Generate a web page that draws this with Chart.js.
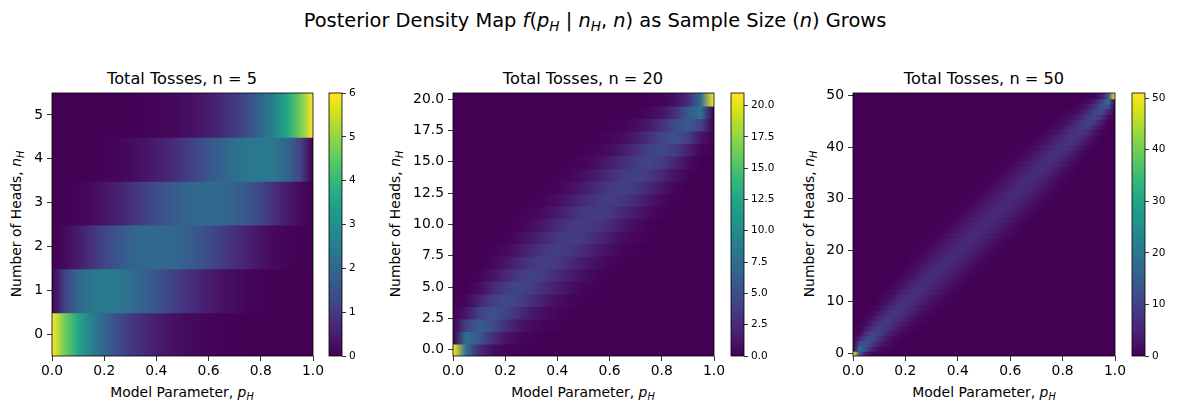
<!DOCTYPE html>
<html>
<head>
<meta charset="utf-8">
<script src="https://cdn.jsdelivr.net/npm/chart.js@4.4.1/dist/chart.umd.min.js"></script>
<style>
  body { margin: 0; background: #fff; width: 1177px; height: 413px; overflow: hidden; position: relative;
         font-family: "DejaVu Sans", sans-serif; color: #000; }
  canvas { position: absolute; }
  .txt { position: absolute; white-space: nowrap; transform: translate(-50%, -50%); line-height: 1; }
  .ylab { transform: translate(-50%, -50%) rotate(-90deg); }
  sub { font-size: 70%; position: relative; top: 0.3em; vertical-align: baseline; }
</style>
</head>
<body>

<div class="txt" style="left:595px;top:21px;font-size:19.4px">Posterior Density Map <i>f</i>(<i>p<sub>H</sub></i> | <i>n<sub>H</sub></i>, <i>n</i>) as Sample Size (<i>n</i>) Grows</div>

<div class="txt" style="left:182px;top:79px;font-size:16.2px">Total Tosses, n = 5</div>
<div class="txt" style="left:583px;top:79px;font-size:16.2px">Total Tosses, n = 20</div>
<div class="txt" style="left:984px;top:79px;font-size:16.2px">Total Tosses, n = 50</div>

<div class="txt" style="left:182px;top:393px;font-size:13.9px">Model Parameter, <i>p<sub>H</sub></i></div>
<div class="txt" style="left:583px;top:393px;font-size:13.9px">Model Parameter, <i>p<sub>H</sub></i></div>
<div class="txt" style="left:984px;top:393px;font-size:13.9px">Model Parameter, <i>p<sub>H</sub></i></div>

<div class="txt ylab" style="left:17px;top:224px;font-size:13.9px">Number of Heads, <i>n<sub>H</sub></i></div>
<div class="txt ylab" style="left:396px;top:224px;font-size:13.9px">Number of Heads, <i>n<sub>H</sub></i></div>
<div class="txt ylab" style="left:810px;top:224px;font-size:13.9px">Number of Heads, <i>n<sub>H</sub></i></div>

<script>
// p values where the density was read (columns of each row)
const pGrid = [0, 0.05, 0.1, 0.15, 0.2, 0.25, 0.3, 0.35, 0.4, 0.45, 0.5,
               0.55, 0.6, 0.65, 0.7, 0.75, 0.8, 0.85, 0.9, 0.95, 1];
const pGridFine = [0, 0.025, 0.05, 0.075, 0.1, 0.125, 0.15, 0.175, 0.2, 0.225, 0.25,
                   0.275, 0.3, 0.325, 0.35, 0.375, 0.4, 0.425, 0.45, 0.475, 0.5,
                   0.525, 0.55, 0.575, 0.6, 0.625, 0.65, 0.675, 0.7, 0.725, 0.75,
                   0.775, 0.8, 0.825, 0.85, 0.875, 0.9, 0.925, 0.95, 0.975, 1];

// density, one row per number of heads (row 0 = 0 heads)
const density5 = [
  [6, 4.64, 3.54, 2.66, 1.97, 1.42, 1.01, 0.70, 0.47, 0.30, 0.19, 0.11, 0.06, 0.03, 0.01, 0.01, 0, 0, 0, 0, 0],
  [0, 1.22, 1.97, 2.35, 2.46, 2.37, 2.16, 1.87, 1.56, 1.24, 0.94, 0.68, 0.46, 0.29, 0.17, 0.09, 0.04, 0.01, 0, 0, 0],
  [0, 0.13, 0.44, 0.83, 1.23, 1.58, 1.85, 2.02, 2.07, 2.02, 1.88, 1.65, 1.38, 1.09, 0.79, 0.53, 0.31, 0.15, 0.05, 0.01, 0],
  [0, 0.01, 0.05, 0.15, 0.31, 0.53, 0.79, 1.09, 1.38, 1.65, 1.88, 2.02, 2.07, 2.02, 1.85, 1.58, 1.23, 0.83, 0.44, 0.13, 0],
  [0, 0, 0, 0.01, 0.04, 0.09, 0.17, 0.29, 0.46, 0.68, 0.94, 1.24, 1.56, 1.87, 2.16, 2.37, 2.46, 2.35, 1.97, 1.22, 0],
  [0, 0, 0, 0, 0, 0.01, 0.01, 0.03, 0.06, 0.11, 0.19, 0.30, 0.47, 0.70, 1.01, 1.42, 1.97, 2.66, 3.54, 4.64, 6]
];

const density20 = [
  [21, 7.5, 2.6, 0.8, 0.2, 0.1, 0, 0, 0, 0, 0, 0, 0, 0, 0, 0, 0, 0, 0, 0, 0],
  [0, 7.9, 5.7, 2.9, 1.2, 0.4, 0.1, 0, 0, 0, 0, 0, 0, 0, 0, 0, 0, 0, 0, 0, 0],
  [0, 4.0, 6.0, 4.8, 2.9, 1.4, 0.6, 0.2, 0.1, 0, 0, 0, 0, 0, 0, 0, 0, 0, 0, 0, 0],
  [0, 1.2, 4.0, 5.1, 4.3, 2.8, 1.5, 0.7, 0.3, 0.1, 0, 0, 0, 0, 0, 0, 0, 0, 0, 0, 0],
  [0, 0.3, 1.9, 3.8, 4.6, 4.0, 2.7, 1.6, 0.7, 0.3, 0.1, 0, 0, 0, 0, 0, 0, 0, 0, 0, 0],
  [0, 0, 0.7, 2.2, 3.7, 4.3, 3.7, 2.7, 1.6, 0.8, 0.3, 0.1, 0, 0, 0, 0, 0, 0, 0, 0, 0],
  [0, 0, 0.2, 1.0, 2.3, 3.5, 4.0, 3.6, 2.6, 1.6, 0.8, 0.3, 0.1, 0, 0, 0, 0, 0, 0, 0, 0],
  [0, 0, 0, 0.3, 1.1, 2.4, 3.4, 3.9, 3.5, 2.6, 1.5, 0.8, 0.3, 0.1, 0, 0, 0, 0, 0, 0, 0],
  [0, 0, 0, 0.1, 0.5, 1.3, 2.4, 3.4, 3.8, 3.4, 2.5, 1.5, 0.8, 0.3, 0.1, 0, 0, 0, 0, 0, 0],
  [0, 0, 0, 0, 0.2, 0.6, 1.4, 2.4, 3.4, 3.7, 3.4, 2.5, 1.5, 0.7, 0.3, 0.1, 0, 0, 0, 0, 0],
  [0, 0, 0, 0, 0, 0.2, 0.6, 1.4, 2.5, 3.4, 3.7, 3.4, 2.5, 1.4, 0.6, 0.2, 0, 0, 0, 0, 0],
  [0, 0, 0, 0, 0, 0.1, 0.3, 0.7, 1.5, 2.5, 3.4, 3.7, 3.4, 2.4, 1.4, 0.6, 0.2, 0, 0, 0, 0],
  [0, 0, 0, 0, 0, 0, 0.1, 0.3, 0.8, 1.5, 2.5, 3.4, 3.8, 3.4, 2.4, 1.3, 0.5, 0.1, 0, 0, 0],
  [0, 0, 0, 0, 0, 0, 0, 0.1, 0.3, 0.8, 1.5, 2.6, 3.5, 3.9, 3.4, 2.4, 1.1, 0.3, 0, 0, 0],
  [0, 0, 0, 0, 0, 0, 0, 0, 0.1, 0.3, 0.8, 1.6, 2.6, 3.6, 4.0, 3.5, 2.3, 1.0, 0.2, 0, 0],
  [0, 0, 0, 0, 0, 0, 0, 0, 0, 0.1, 0.3, 0.8, 1.6, 2.7, 3.7, 4.3, 3.7, 2.2, 0.7, 0, 0],
  [0, 0, 0, 0, 0, 0, 0, 0, 0, 0, 0.1, 0.3, 0.7, 1.6, 2.7, 4.0, 4.6, 3.8, 1.9, 0.3, 0],
  [0, 0, 0, 0, 0, 0, 0, 0, 0, 0, 0, 0.1, 0.3, 0.7, 1.5, 2.8, 4.3, 5.1, 4.0, 1.2, 0],
  [0, 0, 0, 0, 0, 0, 0, 0, 0, 0, 0, 0, 0.1, 0.2, 0.6, 1.4, 2.9, 4.8, 6.0, 4.0, 0],
  [0, 0, 0, 0, 0, 0, 0, 0, 0, 0, 0, 0, 0, 0, 0.1, 0.4, 1.2, 2.9, 5.7, 7.9, 0],
  [0, 0, 0, 0, 0, 0, 0, 0, 0, 0, 0, 0, 0, 0, 0, 0.1, 0.2, 0.8, 2.6, 7.5, 21]
];

// n = 50, read on the finer p grid
const density50 = [
  [51,14.4,3.9,1,0.3,0.1,0,0,0,0, 0,0,0,0,0,0,0,0,0,0, 0,0,0,0,0,0,0,0,0,0, 0,0,0,0,0,0,0,0,0,0, 0],
  [0,18.4,10.3,4.2,1.5,0.5,0.1,0,0,0, 0,0,0,0,0,0,0,0,0,0, 0,0,0,0,0,0,0,0,0,0, 0,0,0,0,0,0,0,0,0,0, 0],
  [0,11.6,13.3,8.3,4,1.6,0.6,0.2,0,0, 0,0,0,0,0,0,0,0,0,0, 0,0,0,0,0,0,0,0,0,0, 0,0,0,0,0,0,0,0,0,0, 0],
  [0,4.8,11.2,10.8,7.1,3.7,1.6,0.6,0.2,0, 0,0,0,0,0,0,0,0,0,0, 0,0,0,0,0,0,0,0,0,0, 0,0,0,0,0,0,0,0,0,0, 0],
  [0,1.4,6.9,10.3,9.2,6.2,3.4,1.6,0.7,0.2, 0,0,0,0,0,0,0,0,0,0, 0,0,0,0,0,0,0,0,0,0, 0,0,0,0,0,0,0,0,0,0, 0],
  [0,0.3,3.4,7.7,9.4,8.1,5.5,3.1,1.5,0.7, 0.3,0,0,0,0,0,0,0,0,0, 0,0,0,0,0,0,0,0,0,0, 0,0,0,0,0,0,0,0,0,0, 0],
  [0,0.1,1.3,4.7,7.9,8.7,7.2,4.9,2.8,1.4, 0.6,0.3,0,0,0,0,0,0,0,0, 0,0,0,0,0,0,0,0,0,0, 0,0,0,0,0,0,0,0,0,0, 0],
  [0,0,0.4,2.4,5.5,7.8,8,6.5,4.4,2.6, 1.3,0.6,0.2,0,0,0,0,0,0,0, 0,0,0,0,0,0,0,0,0,0, 0,0,0,0,0,0,0,0,0,0, 0],
  [0,0,0.1,1,3.3,6,7.6,7.5,6,4, 2.4,1.2,0.6,0.2,0,0,0,0,0,0, 0,0,0,0,0,0,0,0,0,0, 0,0,0,0,0,0,0,0,0,0, 0],
  [0,0,0,0.4,1.7,4,6.3,7.4,7,5.5, 3.7,2.2,1.1,0.5,0.2,0,0,0,0,0, 0,0,0,0,0,0,0,0,0,0, 0,0,0,0,0,0,0,0,0,0, 0],
  [0,0,0,0.1,0.8,2.3,4.5,6.4,7.1,6.5, 5,3.4,2,1,0.5,0.2,0,0,0,0, 0,0,0,0,0,0,0,0,0,0, 0,0,0,0,0,0,0,0,0,0, 0],
  [0,0,0,0,0.3,1.2,2.9,5,6.5,6.9, 6.1,4.6,3.1,1.8,0.9,0.4,0.2,0,0,0, 0,0,0,0,0,0,0,0,0,0, 0,0,0,0,0,0,0,0,0,0, 0],
  [0,0,0,0,0.1,0.6,1.7,3.4,5.3,6.5, 6.6,5.7,4.3,2.8,1.6,0.8,0.4,0.2,0,0, 0,0,0,0,0,0,0,0,0,0, 0,0,0,0,0,0,0,0,0,0, 0],
  [0,0,0,0,0,0.2,0.9,2.1,3.9,5.5, 6.4,6.3,5.4,4,2.6,1.5,0.8,0.3,0.1,0, 0,0,0,0,0,0,0,0,0,0, 0,0,0,0,0,0,0,0,0,0, 0],
  [0,0,0,0,0,0,0.4,1.2,2.5,4.2, 5.7,6.4,6.1,5,3.7,2.3,1.3,0.7,0.3,0.1, 0,0,0,0,0,0,0,0,0,0, 0,0,0,0,0,0,0,0,0,0, 0],
  [0,0,0,0,0,0,0.2,0.6,1.5,2.9, 4.5,5.8,6.2,5.8,4.7,3.4,2.1,1.2,0.6,0.3, 0.1,0,0,0,0,0,0,0,0,0, 0,0,0,0,0,0,0,0,0,0, 0],
  [0,0,0,0,0,0,0,0.3,0.8,1.9, 3.3,4.8,5.9,6.1,5.6,4.4,3.1,1.9,1.1,0.5, 0.2,0,0,0,0,0,0,0,0,0, 0,0,0,0,0,0,0,0,0,0, 0],
  [0,0,0,0,0,0,0,0,0.4,1.1, 2.2,3.6,5,5.9,6,5.3,4.1,2.8,1.7,0.9, 0.5,0.2,0,0,0,0,0,0,0,0, 0,0,0,0,0,0,0,0,0,0, 0],
  [0,0,0,0,0,0,0,0,0.2,0.6, 1.4,2.5,3.9,5.2,5.9,5.8,5,3.8,2.6,1.6, 0.8,0.4,0.2,0,0,0,0,0,0,0, 0,0,0,0,0,0,0,0,0,0, 0],
  [0,0,0,0,0,0,0,0,0,0.3, 0.8,1.6,2.8,4.2,5.4,5.9,5.7,4.8,3.6,2.4, 1.4,0.7,0.3,0.1,0,0,0,0,0,0, 0,0,0,0,0,0,0,0,0,0, 0],
  [0,0,0,0,0,0,0,0,0,0.1, 0.4,1,1.9,3.1,4.5,5.5,5.8,5.5,4.5,3.3, 2.1,1.2,0.6,0.3,0.1,0,0,0,0,0, 0,0,0,0,0,0,0,0,0,0, 0],
  [0,0,0,0,0,0,0,0,0,0, 0.2,0.5,1.2,2.2,3.4,4.7,5.6,5.8,5.3,4.3, 3.1,1.9,1.1,0.5,0.2,0,0,0,0,0, 0,0,0,0,0,0,0,0,0,0, 0],
  [0,0,0,0,0,0,0,0,0,0, 0.1,0.3,0.7,1.4,2.4,3.7,4.9,5.6,5.7,5.1, 4,2.8,1.7,0.9,0.4,0.2,0,0,0,0, 0,0,0,0,0,0,0,0,0,0, 0],
  [0,0,0,0,0,0,0,0,0,0, 0,0.1,0.3,0.8,1.6,2.7,4,5.1,5.7,5.6, 4.9,3.8,2.6,1.5,0.8,0.4,0.1,0,0,0, 0,0,0,0,0,0,0,0,0,0, 0],
  [0,0,0,0,0,0,0,0,0,0, 0,0,0.2,0.4,1,1.8,3,4.2,5.2,5.7, 5.5,4.7,3.5,2.3,1.3,0.7,0.3,0.1,0,0, 0,0,0,0,0,0,0,0,0,0, 0],
  [0,0,0,0,0,0,0,0,0,0, 0,0,0,0.2,0.5,1.1,2.1,3.2,4.5,5.4, 5.7,5.4,4.5,3.2,2.1,1.1,0.5,0.2,0,0, 0,0,0,0,0,0,0,0,0,0, 0],
  [0,0,0,0,0,0,0,0,0,0, 0,0,0,0.1,0.3,0.7,1.3,2.3,3.5,4.7, 5.5,5.7,5.2,4.2,3,1.8,1,0.4,0.2,0, 0,0,0,0,0,0,0,0,0,0, 0],
  [0,0,0,0,0,0,0,0,0,0, 0,0,0,0,0.1,0.4,0.8,1.5,2.6,3.8, 4.9,5.6,5.7,5.1,4,2.7,1.6,0.8,0.3,0.1, 0,0,0,0,0,0,0,0,0,0, 0],
  [0,0,0,0,0,0,0,0,0,0, 0,0,0,0,0,0.2,0.4,0.9,1.7,2.8, 4,5.1,5.7,5.6,4.9,3.7,2.4,1.4,0.7,0.3, 0.1,0,0,0,0,0,0,0,0,0, 0],
  [0,0,0,0,0,0,0,0,0,0, 0,0,0,0,0,0,0.2,0.5,1.1,1.9, 3.1,4.3,5.3,5.8,5.6,4.7,3.4,2.2,1.2,0.5, 0.2,0,0,0,0,0,0,0,0,0, 0],
  [0,0,0,0,0,0,0,0,0,0, 0,0,0,0,0,0,0.1,0.3,0.6,1.2, 2.1,3.3,4.5,5.5,5.8,5.5,4.5,3.1,1.9,1, 0.4,0.1,0,0,0,0,0,0,0,0, 0],
  [0,0,0,0,0,0,0,0,0,0, 0,0,0,0,0,0,0,0.1,0.3,0.7, 1.4,2.4,3.6,4.8,5.7,5.9,5.4,4.2,2.8,1.6, 0.8,0.3,0,0,0,0,0,0,0,0, 0],
  [0,0,0,0,0,0,0,0,0,0, 0,0,0,0,0,0,0,0,0.2,0.4, 0.8,1.6,2.6,3.8,5,5.8,5.9,5.2,3.9,2.5, 1.4,0.6,0.2,0,0,0,0,0,0,0, 0],
  [0,0,0,0,0,0,0,0,0,0, 0,0,0,0,0,0,0,0,0,0.2, 0.5,0.9,1.7,2.8,4.1,5.3,6,5.9,5,3.6, 2.2,1.1,0.4,0,0,0,0,0,0,0, 0],
  [0,0,0,0,0,0,0,0,0,0, 0,0,0,0,0,0,0,0,0,0, 0.2,0.5,1.1,1.9,3.1,4.4,5.6,6.1,5.9,4.8, 3.3,1.9,0.8,0.3,0,0,0,0,0,0, 0],
  [0,0,0,0,0,0,0,0,0,0, 0,0,0,0,0,0,0,0,0,0, 0.1,0.3,0.6,1.2,2.1,3.4,4.7,5.8,6.2,5.8, 4.5,2.9,1.5,0.6,0.2,0,0,0,0,0, 0],
  [0,0,0,0,0,0,0,0,0,0, 0,0,0,0,0,0,0,0,0,0, 0,0.1,0.3,0.7,1.3,2.3,3.7,5,6.1,6.4, 5.7,4.2,2.5,1.2,0.4,0,0,0,0,0, 0],
  [0,0,0,0,0,0,0,0,0,0, 0,0,0,0,0,0,0,0,0,0, 0,0,0.1,0.3,0.8,1.5,2.6,4,5.4,6.3, 6.4,5.5,3.9,2.1,0.9,0.2,0,0,0,0, 0],
  [0,0,0,0,0,0,0,0,0,0, 0,0,0,0,0,0,0,0,0,0, 0,0,0,0.2,0.4,0.8,1.6,2.8,4.3,5.7, 6.6,6.5,5.3,3.4,1.7,0.6,0.1,0,0,0, 0],
  [0,0,0,0,0,0,0,0,0,0, 0,0,0,0,0,0,0,0,0,0, 0,0,0,0,0.2,0.4,0.9,1.8,3.1,4.6, 6.1,6.9,6.5,5,2.9,1.2,0.3,0,0,0, 0],
  [0,0,0,0,0,0,0,0,0,0, 0,0,0,0,0,0,0,0,0,0, 0,0,0,0,0,0.2,0.5,1,2,3.4, 5,6.5,7.1,6.4,4.5,2.3,0.8,0.1,0,0, 0],
  [0,0,0,0,0,0,0,0,0,0, 0,0,0,0,0,0,0,0,0,0, 0,0,0,0,0,0,0.2,0.5,1.1,2.2, 3.7,5.5,7,7.4,6.3,4,1.7,0.4,0,0, 0],
  [0,0,0,0,0,0,0,0,0,0, 0,0,0,0,0,0,0,0,0,0, 0,0,0,0,0,0,0,0.2,0.6,1.2, 2.4,4,6,7.5,7.6,6,3.3,1,0.1,0, 0],
  [0,0,0,0,0,0,0,0,0,0, 0,0,0,0,0,0,0,0,0,0, 0,0,0,0,0,0,0,0,0.2,0.6, 1.3,2.6,4.4,6.5,8,7.8,5.5,2.4,0.4,0, 0],
  [0,0,0,0,0,0,0,0,0,0, 0,0,0,0,0,0,0,0,0,0, 0,0,0,0,0,0,0,0,0,0.3, 0.6,1.4,2.8,4.9,7.2,8.7,7.9,4.7,1.3,0.1, 0],
  [0,0,0,0,0,0,0,0,0,0, 0,0,0,0,0,0,0,0,0,0, 0,0,0,0,0,0,0,0,0,0, 0.3,0.7,1.5,3.1,5.5,8.1,9.4,7.7,3.4,0.3, 0],
  [0,0,0,0,0,0,0,0,0,0, 0,0,0,0,0,0,0,0,0,0, 0,0,0,0,0,0,0,0,0,0, 0,0.2,0.7,1.6,3.4,6.2,9.2,10.3,6.9,1.4, 0],
  [0,0,0,0,0,0,0,0,0,0, 0,0,0,0,0,0,0,0,0,0, 0,0,0,0,0,0,0,0,0,0, 0,0,0.2,0.6,1.6,3.7,7.1,10.8,11.2,4.8, 0],
  [0,0,0,0,0,0,0,0,0,0, 0,0,0,0,0,0,0,0,0,0, 0,0,0,0,0,0,0,0,0,0, 0,0,0,0.2,0.6,1.6,4,8.3,13.3,11.6, 0],
  [0,0,0,0,0,0,0,0,0,0, 0,0,0,0,0,0,0,0,0,0, 0,0,0,0,0,0,0,0,0,0, 0,0,0,0,0.1,0.5,1.5,4.2,10.3,18.4, 0],
  [0,0,0,0,0,0,0,0,0,0, 0,0,0,0,0,0,0,0,0,0, 0,0,0,0,0,0,0,0,0,0, 0,0,0,0,0,0.1,0.3,1,3.9,14.4, 51]
];

// colour ranges and tick labels
const colorMax = [6, 21, 51];
const xTicks = [0, 0.2, 0.4, 0.6, 0.8, 1.0];
const yTicks5 = [0, 1, 2, 3, 4, 5];
const yTicks20 = [0, 2.5, 5, 7.5, 10, 12.5, 15, 17.5, 20];
const yTicks50 = [0, 10, 20, 30, 40, 50];
const cbTicks5 = [0, 1, 2, 3, 4, 5, 6];
const cbTicks20 = [0, 2.5, 5, 7.5, 10, 12.5, 15, 17.5, 20];
const cbTicks50 = [0, 10, 20, 30, 40, 50];

// viridis colour map samples (t = 0, 0.05, ... 1)
const VIRIDIS = [
  [68,1,84],[71,19,101],[72,36,117],[70,51,127],[65,68,135],[59,82,139],[53,95,141],
  [47,108,142],[42,120,142],[37,132,142],[33,145,140],[30,156,137],[34,168,132],
  [47,180,124],[68,191,112],[94,201,98],[122,209,81],[155,217,60],[189,223,38],
  [223,227,24],[253,231,37]
];

function viridis(t) {
  t = Math.min(1, Math.max(0, t)) * (VIRIDIS.length - 1);
  const i = Math.min(Math.floor(t), VIRIDIS.length - 2), f = t - i;
  const a = VIRIDIS[i], b = VIRIDIS[i + 1];
  return 'rgb(' + [0, 1, 2].map(j => Math.round(a[j] + (b[j] - a[j]) * f)).join(',') + ')';
}

const framePlugin = {
  id: 'frame',
  afterDatasetsDraw(chart) {
    const a = chart.chartArea, c = chart.ctx;
    c.save();
    c.strokeStyle = '#000';
    c.lineWidth = 0.8;
    c.strokeRect(a.left, a.top, a.right - a.left, a.bottom - a.top);
    c.restore();
  }
};

const TOP = 93, BOTTOM = 356;
const tickFont = { family: 'DejaVu Sans', size: 13.9 };
const cbFont = { family: 'DejaVu Sans', size: 10.5 };

function addCanvas(left, top, w, h) {
  const cv = document.createElement('canvas');
  cv.width = w; cv.height = h;
  cv.style.left = left + 'px'; cv.style.top = top + 'px';
  cv.style.width = w + 'px'; cv.style.height = h + 'px';
  document.body.appendChild(cv);
  return cv;
}

function rowGradient(chart, values, grid, vmax) {
  const xs = chart.scales.x;
  if (!chart.chartArea || !xs || !values) return viridis(0);
  const g = chart.ctx.createLinearGradient(xs.getPixelForValue(0), 0, xs.getPixelForValue(1), 0);
  values.forEach((v, i) => g.addColorStop(grid[i], viridis(v / vmax)));
  return g;
}

function heatmap(x0, x1, rows, grid, vmax, yTicks, yFmt) {
  const padL = 4, yW = 46, padR = 14, padT = 10, xH = 26;
  const plotW = x1 - x0, plotH = BOTTOM - TOP;
  const cv = addCanvas(x0 - padL - yW, TOP - padT, padL + yW + plotW + padR, padT + plotH + xH + 4);
  const n = rows.length - 1;
  return new Chart(cv, {
    type: 'bar',
    data: {
      datasets: [{
        data: rows.map((r, k) => ({ y: k, x: [0, 1] })),
        backgroundColor: c => rowGradient(c.chart, rows[c.dataIndex], grid, vmax),
        borderWidth: 0,
        inflateAmount: 1,
        barPercentage: 1,
        categoryPercentage: 1
      }]
    },
    options: {
      indexAxis: 'y',
      responsive: false,
      animation: false,
      layout: { padding: { left: padL, right: padR, top: padT, bottom: 4 } },
      plugins: { legend: { display: false }, tooltip: { enabled: false } },
      scales: {
        x: {
          type: 'linear', min: 0, max: 1,
          afterBuildTicks: s => { s.ticks = xTicks.map(v => ({ value: v })); },
          afterFit: s => { s.height = xH; s.paddingLeft = 0; s.paddingRight = 0; },
          ticks: { callback: v => v.toFixed(1), color: '#000', font: tickFont, padding: 2, maxRotation: 0, autoSkip: false },
          grid: { drawOnChartArea: false, tickLength: 5, color: '#000', lineWidth: 0.8 },
          border: { display: false }
        },
        y: {
          type: 'linear', min: -0.5, max: n + 0.5, offset: false,
          afterBuildTicks: s => { s.ticks = yTicks.map(v => ({ value: v })); },
          afterFit: s => { s.width = yW; s.paddingTop = 0; s.paddingBottom = 0; },
          ticks: { callback: yFmt, color: '#000', font: tickFont, padding: 4, autoSkip: false },
          grid: { drawOnChartArea: false, offset: false, tickLength: 5, color: '#000', lineWidth: 0.8 },
          border: { display: false }
        }
      }
    },
    plugins: [framePlugin]
  });
}

function colorbar(cx0, vmax, ticks, fmt) {
  const padL = 2, barW = 13, yW = 44, padT = 10;
  const plotH = BOTTOM - TOP;
  const cv = addCanvas(cx0 - padL, TOP - padT, padL + barW + yW, padT + plotH + 30);
  return new Chart(cv, {
    type: 'bar',
    data: {
      labels: [''],
      datasets: [{
        data: [[0, vmax]],
        backgroundColor: c => {
          const ys = c.chart.scales.y;
          if (!c.chart.chartArea || !ys) return viridis(0);
          const g = c.chart.ctx.createLinearGradient(0, ys.getPixelForValue(0), 0, ys.getPixelForValue(vmax));
          VIRIDIS.forEach((_, i) => g.addColorStop(i / (VIRIDIS.length - 1), viridis(i / (VIRIDIS.length - 1))));
          return g;
        },
        borderWidth: 0,
        barPercentage: 1,
        categoryPercentage: 1
      }]
    },
    options: {
      responsive: false,
      animation: false,
      layout: { padding: { left: padL, right: 0, top: padT, bottom: 30 } },
      plugins: { legend: { display: false }, tooltip: { enabled: false } },
      scales: {
        x: { display: false },
        y: {
          position: 'right', min: 0, max: vmax,
          afterBuildTicks: s => { s.ticks = ticks.map(v => ({ value: v })); },
          afterFit: s => { s.width = yW; s.paddingTop = 0; s.paddingBottom = 0; },
          ticks: { callback: fmt, color: '#000', font: cbFont, padding: 3, autoSkip: false },
          grid: { drawOnChartArea: false, tickLength: 4, color: '#000', lineWidth: 0.8 },
          border: { display: false }
        }
      }
    },
    plugins: [framePlugin]
  });
}

const intFmt = v => String(v);
const oneDec = v => v.toFixed(1);

const charts = [
  heatmap(52, 313, density5, pGrid, colorMax[0], yTicks5, intFmt),
  colorbar(329, colorMax[0], cbTicks5, intFmt),
  heatmap(453, 714, density20, pGrid, colorMax[1], yTicks20, oneDec),
  colorbar(731, colorMax[1], cbTicks20, oneDec),
  heatmap(853, 1115, density50, pGridFine, colorMax[2], yTicks50, intFmt),
  colorbar(1132, colorMax[2], cbTicks50, intFmt)
];
charts.forEach(ch => ch.update('none'));
</script>
</body>
</html>
